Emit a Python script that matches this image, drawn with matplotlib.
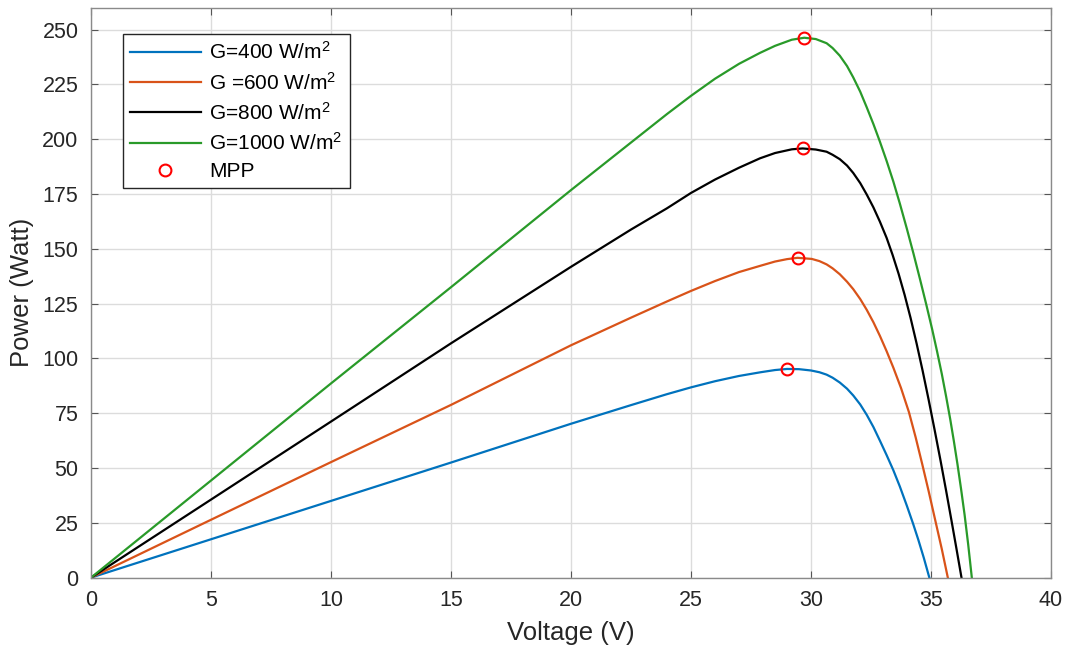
import matplotlib
matplotlib.use("Agg")
import matplotlib.pyplot as plt

# P-V curves, one pair of lists per irradiance
v_400 = [0, 5, 10, 15, 20, 22.5, 24, 25, 26, 27, 27.9, 28.5, 29.0, 29.5, 30.0, 30.35, 30.65,
         30.9, 31.2, 31.5, 31.76, 32.05, 32.32, 32.6, 32.87, 33.15, 33.43, 33.7, 33.99,
         34.25, 34.47, 34.7, 34.93]
p_400 = [0, 17.5, 35.0, 52.5, 70.2, 78.7, 83.7, 86.8, 89.6, 92.0, 93.7, 94.7, 95.2, 95.1, 94.5, 93.7, 92.6,
         91.2, 89.0, 86.2, 83.1, 79.0, 74.3, 68.7, 62.5, 55.9, 49.0, 41.6, 32.9,
         24.7, 17.3, 9.0, 0]

v_600 = [0, 5, 10, 15, 20, 22.5, 24, 25, 26, 27, 27.9, 28.5, 29.0, 29.44, 30.03, 30.35, 30.65,
         30.9, 31.2, 31.5, 31.76, 32.05, 32.32, 32.6, 32.87, 33.15, 33.43, 33.75, 34.08,
         34.36, 34.64, 34.9, 35.18, 35.45, 35.7]
p_600 = [0, 26.4, 52.7, 78.8, 106.0, 118.6, 126.0, 130.8, 135.3, 139.4, 142.3, 144.2, 145.3, 145.9, 145.4, 144.4, 142.9,
         141.1, 138.4, 135.0, 131.6, 127.1, 122.2, 116.5, 110.3, 103.3, 95.8, 86.5, 75.5,
         64.0, 51.5, 39.5, 26.0, 13.0, 0]

v_800 = [0, 5, 10, 15, 20, 22.5, 24, 25, 26, 27, 27.875, 28.5, 29.2, 29.65, 30.2, 30.65,
         30.9, 31.2, 31.5, 31.76, 32.05, 32.32, 32.6, 32.87, 33.15, 33.4, 33.65, 33.9,
         34.15, 34.4, 34.65, 34.9, 35.15, 35.4, 35.63, 35.85, 36.06, 36.27]
p_800 = [0, 35.6, 71.2, 106.9, 141.8, 158.8, 168.5, 175.5, 181.6, 187.0, 191.3, 193.7, 195.4, 195.8, 195.3, 194.3,
         192.9, 190.9, 188.0, 184.6, 180.0, 174.8, 168.9, 162.4, 155.0, 147.2, 138.6, 129.0,
         118.4, 106.8, 94.4, 81.2, 67.4, 53.2, 39.6, 26.2, 13.2, 0]

v_1000 = [0, 5, 10, 15, 20, 22.5, 24, 25, 26, 27, 27.875, 28.5, 29.2, 29.72, 30.2, 30.65,
          30.9, 31.2, 31.5, 31.76, 32.05, 32.32, 32.6, 32.87, 33.15, 33.43, 33.7, 33.99,
          34.27, 34.54, 34.8, 35.05, 35.25, 35.45, 35.63, 35.8, 35.95, 36.1, 36.25, 36.4,
          36.55, 36.7]
p_1000 = [0, 44.3, 88.6, 132.5, 176.8, 198.5, 211.5, 219.8, 227.6, 234.4, 239.4, 242.6, 245.4, 246.3, 245.7, 243.8,
          241.6, 238.1, 233.4, 228.2, 221.7, 214.6, 206.9, 198.9, 190.1, 180.7, 170.7, 159.3,
          147.8, 136.2, 124.7, 113.2, 103.3, 92.9, 82.6, 72.3, 62.4, 51.9, 40.6, 28.6,
          15.0, 0]

v_mpp = [29.0, 29.44, 29.65, 29.72]
p_mpp = [95.2, 145.9, 195.8, 246.3]

labels = ["G=400 W/m$^{2}$", "G =600 W/m$^{2}$", "G=800 W/m$^{2}$", "G=1000 W/m$^{2}$"]
colors = ["#0072BD", "#D95319", "#000000", "#299A29"]

plt.rcParams["font.family"] = ["Liberation Sans", "DejaVu Sans"]
plt.rcParams["mathtext.fontset"] = "custom"
plt.rcParams["mathtext.rm"] = "Liberation Sans"
plt.rcParams["mathtext.default"] = "regular"

fig = plt.figure(figsize=(10.68, 6.48), dpi=100)
ax = fig.add_axes([0.0852, 0.1086, 0.8989, 0.8795])

curves = [(v_400, p_400), (v_600, p_600), (v_800, p_800), (v_1000, p_1000)]
for (v, p), lab, col in zip(curves, labels, colors):
    ax.plot(v, p, color=col, linewidth=1.6, label=lab)
ax.plot(v_mpp, p_mpp, linestyle="none", marker="o", markersize=8.5, markerfacecolor="none",
        markeredgecolor="#FF0000", markeredgewidth=1.5, label="MPP")

ax.set_xlim(0, 40)
ax.set_ylim(0, 260)
ax.set_xticks(range(0, 41, 5))
ax.set_yticks(range(0, 251, 25))
ax.grid(True, color="#dcdcdc", linewidth=1.0)
ax.set_axisbelow(True)
for s in ax.spines.values():
    s.set_color("#8a8a8a")
    s.set_linewidth(1.0)
ax.tick_params(direction="in", top=True, right=True, length=5, color="#555555",
               labelsize=15.5, labelcolor="#262626")
ax.tick_params(axis="x", pad=9)
ax.tick_params(axis="y", pad=9)

ax.set_xlabel("Voltage (V)", fontsize=18.5, color="#262626", labelpad=7)
ax.set_ylabel("Power (Watt)", fontsize=18.5, color="#262626", labelpad=6)

leg = ax.legend(loc="upper left", bbox_to_anchor=(0.033, 0.954), borderaxespad=0,
                fontsize=15, handlelength=3.4, handletextpad=0.4, labelspacing=0.4,
                fancybox=False, framealpha=1, edgecolor="#262626", borderpad=0.35)
leg.get_frame().set_linewidth(1.0)

fig.savefig("out.png", dpi=100)
